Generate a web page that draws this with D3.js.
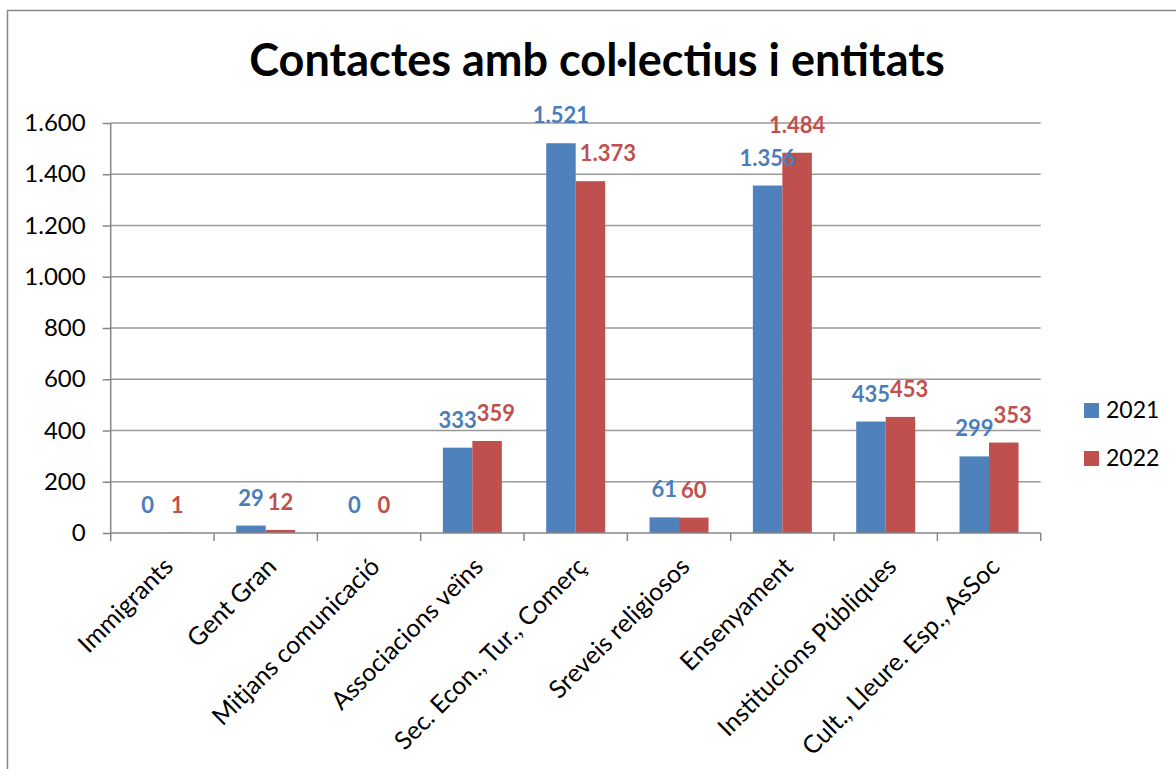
<!DOCTYPE html>
<html><head><meta charset="utf-8">
<script src="https://cdn.jsdelivr.net/npm/d3@7"></script>
<style>body{margin:0;background:#fff}svg{display:block}text{font-family:Lato,"Open Sans",sans-serif}</style>
</head><body>
<svg id="c" width="1176" height="769"></svg>
<script>
const title = "Contactes amb col·lectius i entitats";
const categories = ["Immigrants","Gent Gran","Mitjans comunicació","Associacions veïns","Sec. Econ., Tur., Comerç","Sreveis religiosos","Ensenyament","Institucions Públiques","Cult., Lleure. Esp., AsSoc"];
const seriesNames = ["2021","2022"];
const values2021 = [0,29,0,333,1521,61,1356,435,299];
const values2022 = [1,12,0,359,1373,60,1484,453,353];
const yTicks = [0,200,400,600,800,1000,1200,1400,1600];
const colors = ["#4F81BD","#C0504D"];
const labelColors = ["#4A7EBB","#C0504D"];

const svg = d3.select("#c");
const fmt = v => d3.format(",")(v).replace(/,/g,".");

// frame
svg.append("rect").attr("x",7.5).attr("y",10.5).attr("width",1200).attr("height",800)
  .attr("fill","none").attr("stroke","#868686").attr("stroke-width",1.5);

const L=110.7, R=1040.7, T=123, B=533;
const x = d3.scaleBand().domain(categories).range([L,R]).paddingInner(0).paddingOuter(0);
const y = d3.scaleLinear().domain([0,1600]).range([B,T]);

// gridlines
const g = svg.append("g");
g.selectAll("line.grid").data(yTicks.filter(d=>d>0)).join("line")
  .attr("x1",L).attr("x2",R).attr("y1",d=>y(d)).attr("y2",d=>y(d))
  .attr("stroke","#999").attr("stroke-width",1.5);

// y axis
const ya = svg.append("g").attr("transform",`translate(${L},0)`)
  .call(d3.axisLeft(y).tickValues(yTicks).tickFormat(fmt).tickSize(8).tickPadding(17));
ya.select(".domain").attr("stroke","#868686").attr("stroke-width",1.5).attr("d",`M0,${T}V${B}`);
ya.selectAll(".tick line").attr("stroke","#868686").attr("stroke-width",1.5);
ya.selectAll(".tick text").attr("font-size",24).attr("fill","#000").attr("font-family","Lato");

// bars
const series = [values2021, values2022];
const bw = 29.5, off = (x.bandwidth()-2*bw)/2;
const gb = svg.append("g");
series.forEach((vals,si)=>{
  gb.selectAll(null).data(categories).join("rect")
    .attr("x",(c)=>x(c)+off+si*bw).attr("width",bw)
    .attr("y",(c,i)=>y(vals[i])).attr("height",(c,i)=>B-y(vals[i]))
    .attr("fill",colors[si]);
});

// x axis
const xa = svg.append("g").attr("transform",`translate(0,${B})`);
xa.append("line").attr("x1",L).attr("x2",R).attr("stroke","#868686").attr("stroke-width",1.5);
const edges = categories.map(c=>x(c)).concat([R]);
xa.selectAll("line.t").data(edges).join("line").attr("class","t")
  .attr("x1",d=>d).attr("x2",d=>d).attr("y1",0).attr("y2",8).attr("stroke","#868686").attr("stroke-width",1.5);
xa.selectAll("text.cl").data(categories).join("text").attr("class","cl")
  .attr("text-anchor","end").attr("font-size",25).attr("fill","#000")
  .attr("transform",c=>`translate(${x(c)+x.bandwidth()/2+6},${29}) rotate(-45)`)
  .attr("dy","0.35em")
  .text(c=>c);

// data labels
const gl = svg.append("g");
const blueBoxes = [];
categories.forEach((c,i)=>{
  const cx = x(c)+off+bw/2;
  const t = gl.append("text").attr("x",cx).attr("y",y(values2021[i])-20)
    .attr("text-anchor","middle").attr("font-size",22).attr("font-weight","bold")
    .attr("fill",labelColors[0]).text(fmt(values2021[i]));
  const bb = t.node().getBBox();
  blueBoxes.push({bb, barRight:x(c)+off+bw, barTop:y(values2021[i])});
});
categories.forEach((c,i)=>{
  let cx = x(c)+off+bw*1.5;
  const t = gl.append("text").attr("x",cx).attr("y",y(values2022[i])-20)
    .attr("text-anchor","middle").attr("font-size",22).attr("font-weight","bold")
    .attr("fill",labelColors[1]).text(fmt(values2022[i]));
  const bb = t.node().getBBox();
  const b = blueBoxes[i];
  let minLeft = -Infinity;
  const vOverlapLabel = bb.y < b.bb.y+b.bb.height && bb.y+bb.height > b.bb.y;
  if (vOverlapLabel && bb.x < b.bb.x+b.bb.width) minLeft = Math.max(minLeft, b.bb.x+b.bb.width);
  if (bb.y+bb.height > b.barTop && bb.x < b.barRight) minLeft = Math.max(minLeft, b.barRight+4);
  if (minLeft > bb.x) t.attr("x", cx + (minLeft - bb.x));
});

// title
svg.append("text").attr("x",597).attr("y",76).attr("text-anchor","middle")
  .attr("font-size",45).attr("font-weight","bold").attr("fill","#000").text(title);

// legend
const lg = svg.append("g");
seriesNames.forEach((s,i)=>{
  lg.append("rect").attr("x",1084).attr("y",403+i*48).attr("width",15).attr("height",15).attr("fill",colors[i]);
  lg.append("text").attr("x",1106).attr("y",418+i*48).attr("font-size",23).attr("fill","#000").text(s);
});
</script>
</body></html>
